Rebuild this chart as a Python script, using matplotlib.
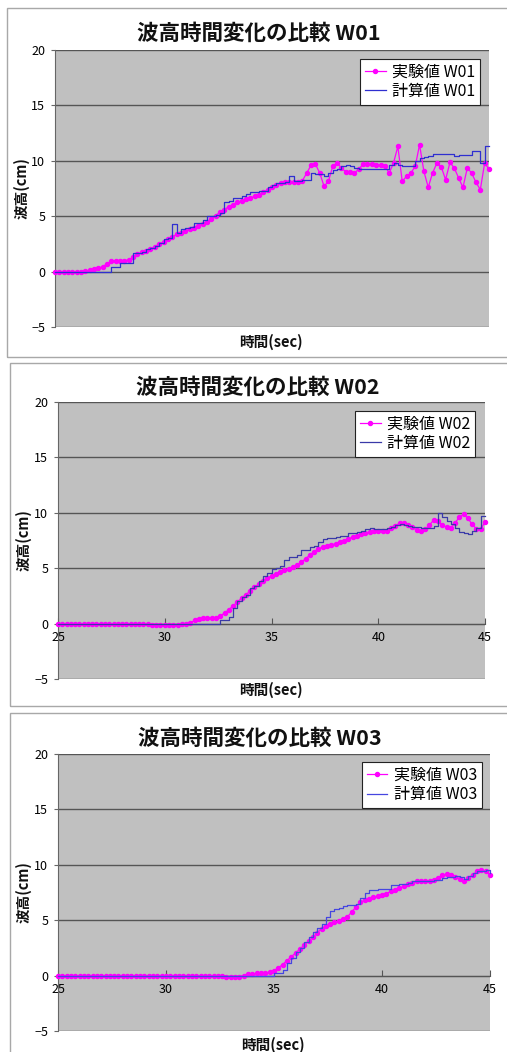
import numpy as np
import matplotlib.pyplot as plt
from matplotlib.patches import Rectangle

plt.rcParams['font.family'] = ['Noto Sans CJK JP', 'DejaVu Sans']

W, H = 507, 1052

# sampling times (sec), 0.2 s step
time = np.linspace(25, 45, 101)

exp_w01 = [
    0.0, 0.0, 0.0, 0.0, 0.0, 0.0, 0.0, 0.05, 0.1, 0.2,
    0.3, 0.45, 0.7, 0.95, 1.0, 1.0, 1.0, 1.05, 1.3, 1.55,
    1.75, 1.9, 2.05, 2.25, 2.45, 2.7, 2.9, 3.15, 3.35, 3.5,
    3.65, 3.8, 3.95, 4.1, 4.3, 4.5, 4.75, 5.05, 5.35, 5.6,
    5.85, 6.05, 6.25, 6.4, 6.55, 6.65, 6.8, 6.95, 7.15, 7.4,
    7.65, 7.85, 8.0, 8.05, 8.05, 8.05, 8.05, 8.2, 8.9, 9.6,
    9.7, 8.9, 7.7, 8.15, 9.5, 9.8, 9.35, 9.0, 8.95, 8.9,
    9.25, 9.7, 9.7, 9.7, 9.65, 9.6, 9.55, 8.9, 9.8, 11.3,
    8.15, 8.6, 8.9, 9.5, 11.45, 9.05, 7.6, 8.9, 9.8, 9.45,
    8.3, 9.85, 9.35, 8.45, 7.6, 9.35, 8.9, 8.05, 7.4, 9.8,
    9.25]
calc_w01 = [
    0.0, 0.0, 0.0, 0.0, 0.0, 0.0, 0.0, 0.0, 0.0, 0.0,
    0.0, 0.0, 0.0, 0.45, 0.45, 0.75, 0.75, 0.8, 1.65, 1.7,
    1.75, 2.0, 2.15, 2.3, 2.6, 2.9, 3.0, 4.3, 3.5, 3.8,
    3.9, 4.0, 4.35, 4.4, 4.7, 5.0, 5.0, 5.1, 5.3, 6.3,
    6.4, 6.6, 6.65, 6.8, 7.0, 7.15, 7.2, 7.25, 7.25, 7.6,
    7.85, 8.0, 8.0, 8.1, 8.6, 8.15, 8.15, 8.3, 8.3, 8.9,
    8.8, 8.8, 8.6, 8.9, 9.2, 9.3, 9.5, 9.65, 9.5, 9.35,
    9.25, 9.25, 9.25, 9.25, 9.25, 9.25, 9.25, 9.65, 9.8, 9.65,
    9.55, 9.55, 9.55, 9.95, 10.25, 10.3, 10.4, 10.6, 10.6, 10.6,
    10.6, 10.6, 10.4, 10.55, 10.55, 10.55, 10.85, 10.85, 9.8, 11.3,
    11.3]

exp_w02 = [
    0.0, 0.0, 0.0, 0.0, 0.0, 0.0, 0.0, 0.0, 0.0, 0.0,
    0.0, 0.0, 0.0, 0.0, 0.0, 0.0, 0.0, 0.0, 0.0, 0.0,
    0.0, -0.05, -0.1, -0.1, -0.1, -0.1, -0.1, -0.1, -0.1, -0.05,
    0.0, 0.05, 0.3, 0.45, 0.5, 0.5, 0.5, 0.5, 0.7, 0.95,
    1.25, 1.6, 1.95, 2.3, 2.6, 2.95, 3.3, 3.55, 3.8, 4.1,
    4.3, 4.5, 4.65, 4.85, 4.95, 5.1, 5.3, 5.55, 5.85, 6.2,
    6.5, 6.75, 6.9, 7.0, 7.1, 7.2, 7.35, 7.5, 7.65, 7.8,
    7.95, 8.05, 8.15, 8.25, 8.35, 8.4, 8.4, 8.4, 8.6, 8.85,
    9.05, 9.05, 8.9, 8.7, 8.45, 8.35, 8.5, 8.9, 9.35, 9.25,
    8.9, 8.7, 8.65, 9.1, 9.6, 9.85, 9.5, 8.95, 8.55, 8.5,
    9.2]
calc_w02 = [
    0.0, 0.0, 0.0, 0.0, 0.0, 0.0, 0.0, 0.0, 0.0, 0.0,
    0.0, 0.0, 0.0, 0.0, 0.0, 0.0, 0.0, 0.0, 0.0, 0.0,
    0.0, 0.0, 0.0, 0.0, 0.0, 0.0, 0.0, 0.0, 0.0, 0.0,
    0.0, 0.0, 0.0, 0.0, 0.0, 0.0, 0.0, 0.0, 0.35, 0.35,
    0.6, 1.4, 2.0, 2.4, 2.6, 3.2, 3.4, 3.8, 4.3, 4.6,
    4.9, 5.0, 5.2, 5.7, 6.0, 6.05, 6.2, 6.6, 6.6, 6.9,
    7.0, 7.4, 7.6, 7.7, 7.7, 7.8, 7.9, 7.9, 8.2, 8.2,
    8.3, 8.4, 8.5, 8.6, 8.5, 8.5, 8.5, 8.6, 8.7, 8.9,
    9.0, 8.9, 8.8, 8.7, 8.7, 8.6, 8.6, 8.6, 8.8, 10.0,
    9.6, 9.3, 9.0, 8.6, 8.3, 8.2, 8.1, 8.4, 8.6, 9.7,
    9.7]

exp_w03 = [
    0.0, 0.0, 0.0, 0.0, 0.0, 0.0, 0.0, 0.0, 0.0, 0.0,
    0.0, 0.0, 0.0, 0.0, 0.0, 0.0, 0.0, 0.0, 0.0, 0.0,
    0.0, 0.0, 0.0, 0.0, 0.0, 0.0, 0.0, 0.0, 0.0, 0.0,
    0.0, 0.0, 0.0, 0.0, 0.0, 0.0, 0.0, 0.0, -0.05, -0.1,
    -0.15, -0.15, -0.1, 0.0, 0.1, 0.15, 0.2, 0.2, 0.25, 0.3,
    0.45, 0.7, 1.0, 1.35, 1.7, 2.05, 2.4, 2.75, 3.1, 3.45,
    3.85, 4.25, 4.5, 4.65, 4.8, 4.9, 5.1, 5.3, 5.75, 6.2,
    6.6, 6.8, 6.95, 7.05, 7.15, 7.25, 7.4, 7.6, 7.75, 7.9,
    8.05, 8.25, 8.4, 8.5, 8.5, 8.5, 8.55, 8.65, 8.85, 9.05,
    9.15, 9.1, 8.9, 8.7, 8.5, 8.8, 9.1, 9.4, 9.5, 9.45,
    9.1]
calc_w03 = [
    0.0, 0.0, 0.0, 0.0, 0.0, 0.0, 0.0, 0.0, 0.0, 0.0,
    0.0, 0.0, 0.0, 0.0, 0.0, 0.0, 0.0, 0.0, 0.0, 0.0,
    0.0, 0.0, 0.0, 0.0, 0.0, 0.0, 0.0, 0.0, 0.0, 0.0,
    0.0, 0.0, 0.0, 0.0, 0.0, 0.0, 0.0, 0.0, 0.0, 0.0,
    0.0, 0.0, 0.0, 0.0, 0.0, 0.0, 0.0, 0.0, 0.0, 0.0,
    0.2, 0.25, 0.5, 1.1, 1.6, 2.1, 2.5, 3.0, 3.5, 3.9,
    4.3, 4.7, 5.3, 5.8, 6.0, 6.1, 6.3, 6.4, 6.4, 6.5,
    7.0, 7.5, 7.7, 7.75, 7.8, 7.8, 7.8, 8.2, 8.2, 8.25,
    8.3, 8.4, 8.5, 8.5, 8.5, 8.5, 8.5, 8.6, 8.65, 8.8,
    8.9, 8.9, 8.95, 8.9, 8.7, 9.0, 9.3, 9.4, 9.45, 9.5,
    9.3]

y_ticks = [-5, 0, 5, 10, 15, 20]
y_labels = ['\u22125', '0', '5', '10', '15', '20']
x_ticks = [25, 30, 35, 40, 45]

fig = plt.figure(figsize=(W / 100, H / 100), dpi=100)


def px_axes(left, top, right, bottom):
    return fig.add_axes([left / W, 1 - bottom / H, (right - left) / W, (bottom - top) / H])


def px_text(x, y, s, **kw):
    fig.text(x / W, 1 - y / H, s, **kw)


def frame(left, top, right, bottom):
    fig.patches.append(Rectangle((left / W, 1 - bottom / H), (right - left) / W, (bottom - top) / H,
                                 transform=fig.transFigure, fill=False,
                                 edgecolor='#a8a8a8', lw=1.0))


def draw_panel(ax, exp, calc, name, show_x, anchor, calc_color):
    ax.set_facecolor('#c0c0c0')
    ax.plot(time, exp, color='#ff00ff', lw=0.9, marker='o', ms=2.9, mec='#ff00ff',
            label='実験値 ' + name, clip_on=False, zorder=3)
    ax.plot(time, calc, color=calc_color, lw=0.9, drawstyle='steps-post',
            label='計算値 ' + name, clip_on=False, zorder=4)
    ax.set_xlim(25, 45)
    ax.set_ylim(-5, 20)
    ax.set_yticks(y_ticks)
    ax.set_yticklabels(y_labels)
    ax.grid(axis='y', color='#555555', lw=1.0)
    ax.set_axisbelow(True)
    for s in ['top', 'right']:
        ax.spines[s].set_visible(False)
    ax.spines['left'].set_color('#666666')
    ax.tick_params(axis='y', length=3, color='#666666', labelsize=9, pad=4)
    if show_x:
        ax.spines['bottom'].set_position(('data', 0))
        ax.spines['bottom'].set_color('#555555')
        ax.set_xticks(x_ticks)
        ax.set_xticklabels([str(v) for v in x_ticks])
        ax.tick_params(axis='x', direction='in', length=4, color='#555555',
                       labelsize=9, pad=5)
    else:
        ax.spines['bottom'].set_visible(False)
        ax.set_xticks([])
    leg = ax.legend(loc='upper right', bbox_to_anchor=anchor, borderaxespad=0,
                    fontsize=11.5, frameon=True, fancybox=False, handlelength=1.3,
                    handletextpad=0.4, labelspacing=0.15, borderpad=0.3)
    leg.get_frame().set_edgecolor('#222222')
    leg.get_frame().set_linewidth(0.8)
    leg.get_frame().set_alpha(1)


# panel frames
frame(7, 8, 530, 357)
frame(10, 363, 530, 706)
frame(10, 713, 530, 1070)

ax1 = px_axes(55, 50, 489, 327)
draw_panel(ax1, exp_w01, calc_w01, 'W01', False, (0.979, 0.968), '#2f2fd0')
ax2 = px_axes(58, 402, 485, 679)
draw_panel(ax2, exp_w02, calc_w02, 'W02', True, (0.977, 0.968), '#3a3aa8')
ax3 = px_axes(58, 754, 490, 1031)
draw_panel(ax3, exp_w03, calc_w03, 'W03', True, (0.981, 0.971), '#4646e0')

title_kw = dict(ha='center', va='center', fontsize=15.5, fontweight='bold', color='#111111')
label_kw = dict(ha='center', va='center', fontsize=10.5, fontweight='bold', color='#111111')

px_text(259, 33, '波高時間変化の比較 W01', **title_kw)
px_text(258, 387, '波高時間変化の比較 W02', **title_kw)
px_text(260, 738, '波高時間変化の比較 W03', **title_kw)

px_text(271, 342, '時間(sec)', **label_kw)
px_text(271, 690, '時間(sec)', **label_kw)
px_text(273, 1045, '時間(sec)', **label_kw)

px_text(22, 188, '波高(cm)', rotation=90, **label_kw)
px_text(24, 540, '波高(cm)', rotation=90, **label_kw)
px_text(24, 892, '波高(cm)', rotation=90, **label_kw)

fig.savefig('out.png', dpi=100, facecolor='white')
